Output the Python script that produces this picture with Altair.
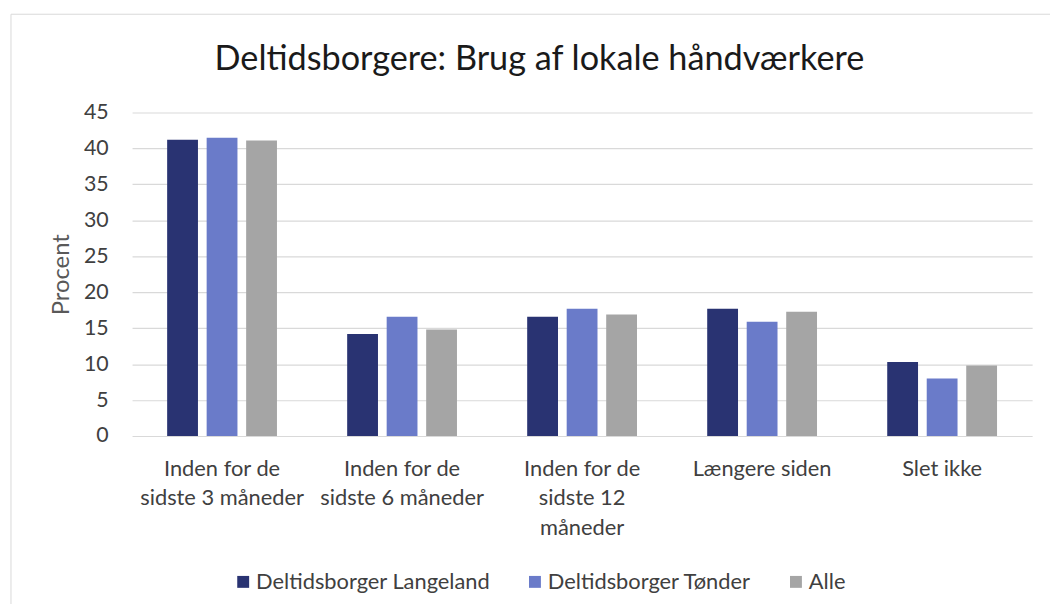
import altair as alt
import pandas as pd

categories = ["Inden for de|sidste 3 måneder", "Inden for de|sidste 6 måneder",
              "Inden for de|sidste 12|måneder", "Længere siden", "Slet ikke"]
series = ["Deltidsborger Langeland", "Deltidsborger Tønder", "Alle"]
langeland = [41.2, 14.2, 16.6, 17.7, 10.3]
tonder = [41.5, 16.6, 17.7, 15.9, 8.0]
alle = [41.1, 14.8, 16.9, 17.3, 9.8]
colors = ["#293372", "#6a7bc9", "#a5a5a5"]
y_ticks = list(range(0, 50, 5))

rows = []
for s, vals in zip(series, [langeland, tonder, alle]):
    for c, v in zip(categories, vals):
        rows.append({"kategori": c, "serie": s, "procent": v})
df = pd.DataFrame(rows)

FONT = "Lato"
W, H = 907, 326

frame = alt.Chart(alt.Data(values=[{"a": 1}])).mark_rect(
    fill=None, stroke="#d9d9d9", strokeWidth=1
).encode(
    x=alt.value(-122), x2=alt.value(960), y=alt.value(-99), y2=alt.value(560)
)

bars = alt.Chart(df).mark_bar().encode(
    x=alt.X("kategori:N", sort=categories, title=None,
            scale=alt.Scale(paddingInner=0.39, paddingOuter=0.195),
            axis=alt.Axis(labelExpr="split(datum.label, '|')", labelAngle=0,
                          domain=False, ticks=False, labelPadding=23,
                          labelLineHeight=29.5, labelFontSize=22, labelFont=FONT,
                          labelColor="#404040", labelBaseline="top")),
    xOffset=alt.XOffset("serie:N", sort=series,
                        scale=alt.Scale(paddingInner=0.22, paddingOuter=0)),
    y=alt.Y("procent:Q", title="Procent",
            scale=alt.Scale(domain=[0, 45], nice=False),
            axis=alt.Axis(values=y_ticks, domain=False, ticks=False,
                          labelPadding=24, labelFontSize=21.5, labelFont=FONT,
                          labelColor="#404040", titleFont=FONT, titleFontSize=24,
                          titleFontWeight="normal", titleColor="#595959",
                          titlePadding=10, gridColor="#d9d9d9", gridWidth=1.2)),
    color=alt.Color("serie:N", sort=series,
                    scale=alt.Scale(domain=series, range=colors),
                    legend=alt.Legend(title=None, orient="none", direction="horizontal",
                                      legendX=101, legendY=462,
                                      symbolType="square", symbolSize=144,
                                      symbolStrokeWidth=0, labelFont=FONT,
                                      labelFontSize=22, labelColor="#404040",
                                      labelLimit=0, columnPadding=34, labelOffset=2)),
)

chart = alt.layer(frame, bars).properties(
    width=W, height=H,
    title=alt.TitleParams("Deltidsborgere: Brug af lokale håndværkere",
                          font=FONT, fontSize=34.5, fontWeight="normal",
                          color="#1a1a1a", anchor="middle", dx=-43, offset=-64),
    autosize=alt.AutoSizeParams(type="none"),
    padding={"left": 125, "top": 103, "right": 18, "bottom": 167},
).configure_view(stroke=None)

chart.save("out.html", embed_options={"renderer": "svg", "actions": False})
